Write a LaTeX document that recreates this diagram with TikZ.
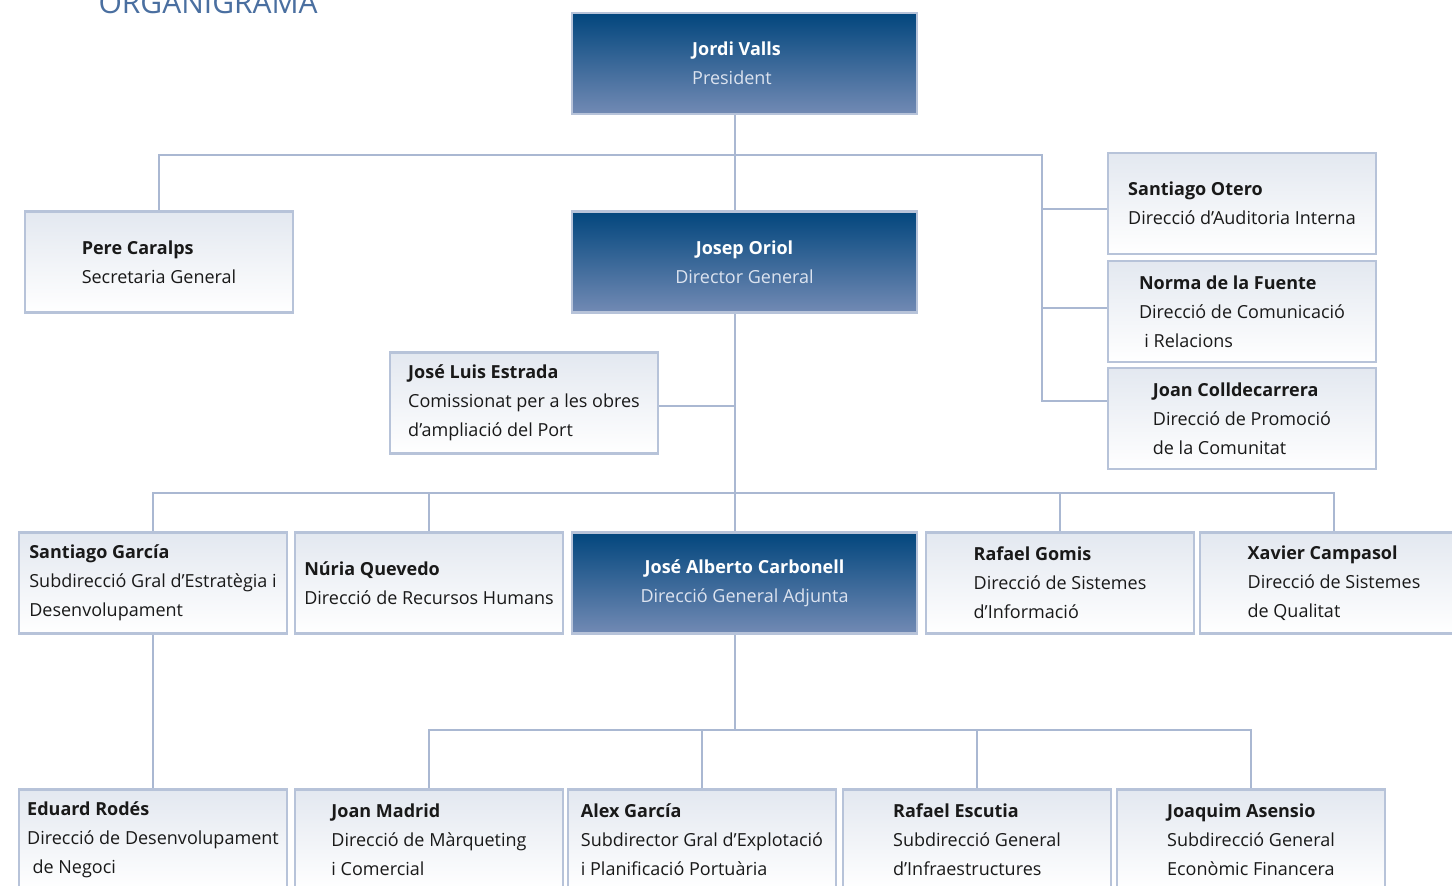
\documentclass[tikz,border=0pt]{standalone}
\usepackage{fontspec}
\setmainfont{Open Sans}
\usepackage{tikz}
\usetikzlibrary{backgrounds}
\definecolor{boxline}{HTML}{B7C3D9}
\definecolor{linkline}{HTML}{AAB8D2}
\definecolor{darktop}{HTML}{02467D}
\definecolor{darkbot}{HTML}{728AB4}
\definecolor{lighttop}{HTML}{E3E8F0}
\definecolor{rolegrey}{HTML}{DCE3EF}
\definecolor{titleblue}{HTML}{4A6FA0}
\tikzset{
  light_box/.style = {rectangle, draw=boxline, line width=2.5pt, top color=lighttop, bottom color=white,
    minimum width=268pt, minimum height=101pt, align=left, inner sep=0pt, text=black!90,
    font=\fontsize{18}{29}\selectfont},
  dark_box/.style = {light_box, top color=darktop, bottom color=darkbot, minimum width=345pt, text=white},
  link/.style = {draw=linkline, line width=2pt}
}

\begin{document}
\begin{tikzpicture}[x=1pt, y=-1pt]
  \useasboundingbox (0,0) rectangle (1452,886);
  \node [anchor=base west, text=titleblue, font=\fontsize{30}{32}\selectfont] (title) at (95,13) {ORGANIGRAMA};

  % direccio
  \node [dark_box] (pres) at (744.5,63.5) {\textbf{Jordi Valls}\hspace*{16pt}\\\textcolor{rolegrey}{President}};
  \node [dark_box, align=center] (dg) at (744.5,262) {\textbf{Josep Oriol}\\\textcolor{rolegrey}{Director General}};
  \node [dark_box, align=center] (jac) at (744.5,583) {\textbf{José Alberto Carbonell}\\\textcolor{rolegrey}{Direcció General Adjunta}};

  \node [light_box] (pere) at (159,262) {\textbf{Pere Caralps}\\Secretaria General};
  \node [light_box] (otero) at (1242,203.5) {\textbf{Santiago Otero}\\Direcció d’Auditoria Interna};
  \node [light_box] (norma) at (1242,311.5) {\textbf{Norma de la Fuente}\\Direcció de Comunicació\\\hspace{0.3em}i Relacions};
  \node [light_box] (colld) at (1242,418.5) {\textbf{Joan Colldecarrera}\\Direcció de Promoció\\de la Comunitat};
  \node [light_box] (estrada) at (524,403) {\textbf{José Luis Estrada}\\Comissionat per a les obres\\d’ampliació del Port};

  % fila mitja
  \node [light_box] (sgarcia) at (153,583) {\textbf{Santiago García}\\Subdirecció Gral d’Estratègia i\\Desenvolupament};
  \node [light_box] (nuria) at (429,583) {\textbf{Núria Quevedo}\\Direcció de Recursos Humans};
  \node [light_box] (gomis) at (1060,583) {\textbf{Rafael Gomis}\\Direcció de Sistemes\\d’Informació};
  \node [light_box] (campasol) at (1334,583) {\textbf{Xavier Campasol}\\Direcció de Sistemes\\de Qualitat};

  % fila baixa
  \node [light_box] (eduard) at (153,840) {\textbf{Eduard Rodés}\\Direcció de Desenvolupament\\\hspace{0.3em}de Negoci};
  \node [light_box] (madrid) at (429,840) {\textbf{Joan Madrid}\\Direcció de Màrqueting\\i Comercial};
  \node [light_box] (alex) at (702,840) {\textbf{Alex García}\\Subdirector Gral d’Explotació\\i Planificació Portuària};
  \node [light_box] (escutia) at (977,840) {\textbf{Rafael Escutia}\\Subdirecció General\\d’Infraestructures};
  \node [light_box] (asensio) at (1251,840) {\textbf{Joaquim Asensio}\\Subdirecció General\\Econòmic Financera};

  \coordinate (rbus) at (1042,155);
  \coordinate (midbus) at (735,493);
  \coordinate (lowbus) at (735,730);

  \begin{scope}[on background layer]
    \draw [link] ([xshift=-9.5pt]pres.south) -- ([xshift=-9.5pt]dg.north);
    \draw [link] ([xshift=-9.5pt]dg.south) -- ([xshift=-9.5pt]jac.north);
    \draw [link] ([xshift=-9.5pt]jac.south) -- (lowbus);
    \draw [link] (pere.north) |- (rbus) |- ([yshift=17.5pt]colld.west);
    \draw [link] ([yshift=-5.5pt]otero.west) -- ++(-66,0);
    \draw [link] ([yshift=3.5pt]norma.west) -- ++(-66,0);
    \draw [link] ([yshift=-3pt]estrada.east) -- ++(77,0);
    \draw [link] (sgarcia.north) |- (midbus) -| (campasol.north);
    \draw [link] (nuria.north) -- (nuria.north |- midbus);
    \draw [link] (gomis.north) -- (gomis.north |- midbus);
    \draw [link] (sgarcia) -- (eduard);
    \draw [link] (madrid.north) |- (lowbus) -| (asensio.north);
    \draw [link] (alex.north) -- (alex.north |- lowbus);
    \draw [link] (escutia.north) -- (escutia.north |- lowbus);
  \end{scope}
\end{tikzpicture}
\end{document}
